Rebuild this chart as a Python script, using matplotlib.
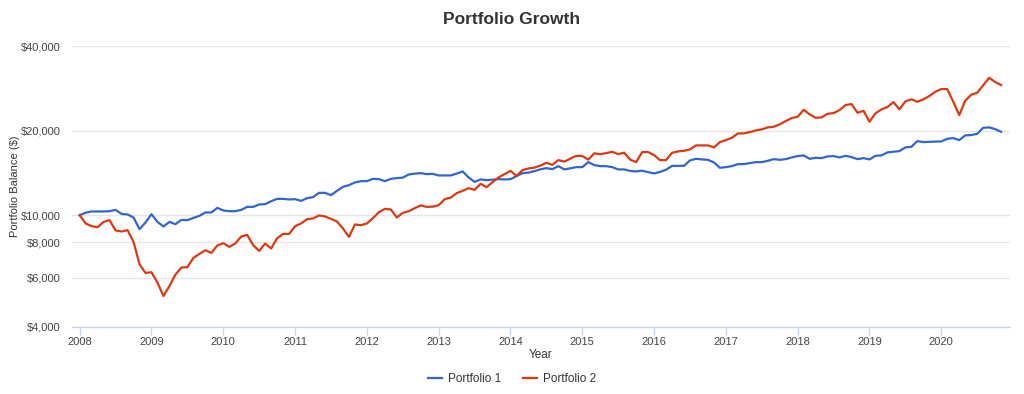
import matplotlib
matplotlib.use("Agg")
import matplotlib.pyplot as plt
from matplotlib.ticker import FixedLocator, FuncFormatter, NullLocator

plt.rcParams['font.family'] = ['Liberation Sans', 'DejaVu Sans']

start_year = 2008
series_names = ["Portfolio 1", "Portfolio 2"]
series_colors = ["#3366cc", "#dc3912"]

portfolio_1 = [
    10000, 10207, 10308, 10308, 10308, 10333, 10444, 10107, 10057, 9813,
    8915, 9419, 10082, 9465, 9115, 9465, 9289, 9622, 9598, 9780,
    9943, 10224, 10224, 10617, 10393, 10333, 10333, 10444, 10704, 10704,
    10917, 10944, 11217, 11430, 11430, 11375, 11403, 11244, 11496, 11591,
    12007, 12007, 11782, 12206, 12613, 12790, 13077, 13216, 13216, 13468,
    13435, 13216, 13468, 13546, 13601, 13963, 14055, 14113, 13997, 14030,
    13848, 13848, 13848, 14055, 14311, 13624, 13141, 13402, 13326, 13380,
    13435, 13402, 13435, 13770, 14113, 14172, 14346, 14560, 14704, 14584,
    14947, 14550, 14680, 14826, 14826, 15445, 15071, 14947, 14947, 14826,
    14550, 14550, 14370, 14311, 14400, 14229, 14078, 14260, 14520, 14970,
    14984, 14984, 15662, 15870, 15792, 15740, 15407, 14741, 14826, 14947,
    15196, 15196, 15319, 15445, 15445, 15611, 15830, 15740, 15830, 16053,
    16230, 16321, 15870, 16000, 15962, 16185, 16230, 16053, 16266, 16090,
    15830, 15962, 15792, 16266, 16321, 16725, 16808, 16905, 17426, 17512,
    18349, 18199, 18244, 18274, 18304, 18699, 18806, 18501, 19228, 19275,
    19482, 20465, 20533, 20249, 19803,
]

portfolio_2 = [
    10000, 9342, 9138, 9063, 9465, 9598, 8822, 8749, 8843, 8034,
    6690, 6228, 6264, 5756, 5156, 5597, 6147, 6513, 6530, 7045,
    7280, 7503, 7340, 7802, 7950, 7713, 7929, 8397, 8508, 7818,
    7460, 7929, 7611, 8281, 8577, 8577, 9138, 9342, 9677, 9733,
    9975, 9894, 9701, 9496, 8967, 8369, 9266, 9213, 9342, 9755,
    10250, 10530, 10478, 9813, 10190, 10333, 10591, 10837, 10704, 10722,
    10854, 11403, 11544, 11977, 12206, 12479, 12306, 12927, 12582, 13108,
    13624, 13997, 14381, 13805, 14464, 14667, 14765, 15009, 15358, 15108,
    15701, 15509, 15896, 16266, 16230, 15766, 16603, 16478, 16630, 16808,
    16494, 16690, 15766, 15445, 16767, 16767, 16358, 15701, 15701, 16672,
    16863, 16947, 17142, 17714, 17714, 17714, 17426, 18199, 18501, 18853,
    19546, 19546, 19755, 20033, 20197, 20533, 20635, 21044, 21622, 22161,
    22399, 23721, 22843, 22216, 22289, 22957, 23089, 23662, 24652, 24855,
    23146, 23526, 21498, 23033, 23799, 24251, 25267, 23799, 25413, 25833,
    25329, 25833, 26543, 27494, 28109, 28109, 25329, 22713, 25539, 26828,
    27272, 28976, 30839, 29772, 29048,
]

y_ticks = [4000, 6000, 8000, 10000, 20000, 40000]
x_ticks = list(range(2008, 2021))

months = [start_year + i / 12 for i in range(len(portfolio_1))]

fig = plt.figure(figsize=(10.24, 3.94), dpi=100)
ax = fig.add_axes([72 / 1024, 1 - 327 / 394, (1010 - 72) / 1024, (327 - 46) / 394])

for vals, name, col in zip([portfolio_1, portfolio_2], series_names, series_colors):
    ax.plot(months, vals, color=col, lw=1.6, label=name, solid_joinstyle='round')

ax.set_yscale('log')
ax.set_ylim(4000, 40000)
ax.set_xlim(2007.893, 2020.957)
ax.yaxis.set_major_locator(FixedLocator(y_ticks))
ax.yaxis.set_minor_locator(NullLocator())
ax.yaxis.set_major_formatter(FuncFormatter(lambda v, p: "${:,.0f}".format(v)))
ax.set_xticks(x_ticks)
ax.set_xticklabels([str(x) for x in x_ticks])

ax.grid(axis='y', color='#e6e6e6', lw=1)
ax.set_axisbelow(True)
for s in ['top', 'right', 'left']:
    ax.spines[s].set_visible(False)
ax.spines['bottom'].set_color('#ccd6eb')
ax.spines['bottom'].set_linewidth(1)
ax.tick_params(axis='y', length=0, pad=8, labelsize=8, labelcolor='#444444')
ax.tick_params(axis='x', length=6, width=1, color='#ccd6eb', pad=1, labelsize=8, labelcolor='#444444')

ax.set_ylabel("Portfolio Balance ($)", fontsize=8, color='#333333')
ax.yaxis.set_label_coords((15 - 72) / 938, 0.5)
ax.set_xlabel("Year", fontsize=8.5, color='#333333')
ax.xaxis.set_label_coords(0.5, -(355 - 327) / 281)
ax.xaxis.label.set_va('center')
ax.yaxis.label.set_va('center')

fig.text(0.5, 1 - 20 / 394, "Portfolio Growth", ha='center', va='center',
         fontsize=12.5, fontweight='bold', color='#333333')

leg = fig.legend(loc='center', bbox_to_anchor=(0.5, 1 - 379 / 394), ncol=2, frameon=False,
                 fontsize=8.5, handlelength=1.2, handletextpad=0.5, columnspacing=1.8)
for t in leg.get_texts():
    t.set_color('#333333')

fig.savefig("out.png", dpi=100, facecolor='white')
